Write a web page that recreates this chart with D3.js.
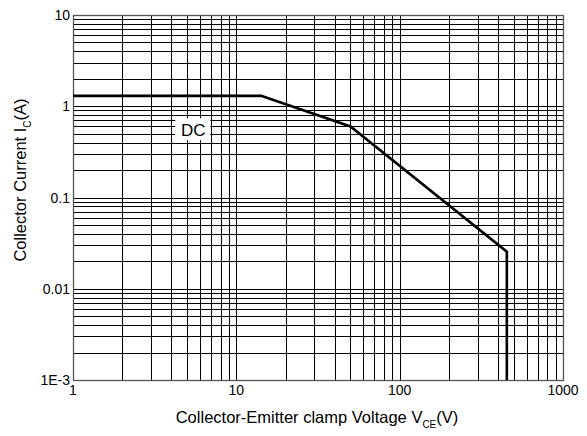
<!DOCTYPE html>
<html><head><meta charset="utf-8">
<script src="https://cdn.jsdelivr.net/npm/d3@7"></script>
<style>body{margin:0;background:#fff}svg{display:block;font-family:"Liberation Sans",Arial,sans-serif}</style>
</head><body><svg id="c" width="587" height="436"></svg>
<script>
const vce = [1, 14.2, 50, 453, 453];
const ic = [1.3, 1.3, 0.6, 0.0255, 0.001];
const xTickLabels = ["1", "10", "100", "1000"];
const xTickValues = [1, 10, 100, 1000];
const yTickLabels = ["1E-3", "0.01", "0.1", "1", "10"];
const yTickValues = [0.001, 0.01, 0.1, 1, 10];
const curveLabel = "DC";

const svg = d3.select("#c");
const L = 73, R = 563, T = 15, B = 380;
const x = d3.scaleLog().domain([1, 1000]).range([L, R]);
const y = d3.scaleLog().domain([0.001, 10]).range([B, T]);

// grid
const xg = [], yg = [];
for (let d = 1; d < 1000; d *= 10) for (let k = 1; k < 10; k++) xg.push(d * k);
for (let d = 0.001; d < 10 - 1e-9; d *= 10) for (let k = 1; k < 10; k++) yg.push(d * k);
const g = svg.append("g");
g.selectAll(".vx").data(xg.slice(1)).enter().append("line")
  .attr("x1", d => Math.round(x(d)) + 0.5).attr("x2", d => Math.round(x(d)) + 0.5)
  .attr("y1", T).attr("y2", B).attr("stroke", "#000").attr("stroke-width", 1);
g.selectAll(".hy").data(yg.slice(1)).enter().append("line")
  .attr("y1", d => Math.round(y(d)) + 0.5).attr("y2", d => Math.round(y(d)) + 0.5)
  .attr("x1", L).attr("x2", R).attr("stroke", "#000").attr("stroke-width", 1);
svg.append("rect").attr("x", L + 0.5).attr("y", T + 0.5).attr("width", R - L).attr("height", B - T)
  .attr("fill", "none").attr("stroke", "#555").attr("stroke-width", 1.3);

// DC label
const lx = x(5.45), ly = y(0.56);
svg.append("rect").attr("x", lx - 18).attr("y", ly - 11).attr("width", 35).attr("height", 22).attr("fill", "#fff");
svg.append("text").attr("x", lx).attr("y", ly + 7).attr("text-anchor", "middle")
  .attr("font-size", 17).text(curveLabel);

// data line
const line = d3.line().x((d, i) => x(vce[i])).y(d => y(d));
svg.append("path").datum(ic).attr("d", line).attr("fill", "none")
  .attr("stroke", "#000").attr("stroke-width", 2.6);

// ticks
svg.selectAll(".yt").data(yTickValues).enter().append("text")
  .attr("x", L - 3).attr("y", d => y(d) + 5).attr("text-anchor", "end")
  .attr("font-size", 14).text((d, i) => yTickLabels[i]);
svg.selectAll(".xt").data(xTickValues).enter().append("text")
  .attr("x", d => x(d)).attr("y", 395).attr("text-anchor", "middle")
  .attr("font-size", 14).text((d, i) => xTickLabels[i]);

// axis titles
const xt = svg.append("text").attr("x", 317).attr("y", 423).attr("text-anchor", "middle").attr("font-size", 16.5);
xt.append("tspan").text("Collector-Emitter clamp Voltage V");
xt.append("tspan").attr("font-size", 10).attr("dy", 5).text("CE");
xt.append("tspan").attr("dy", -5).text("(V)");
const yt = svg.append("text").attr("transform", "translate(26,180) rotate(-90)").attr("text-anchor", "middle").attr("font-size", 16.5);
yt.append("tspan").text("Collector Current I");
yt.append("tspan").attr("font-size", 10).attr("dy", 5).text("C");
yt.append("tspan").attr("dy", -5).text("(A)");
</script></body></html>
